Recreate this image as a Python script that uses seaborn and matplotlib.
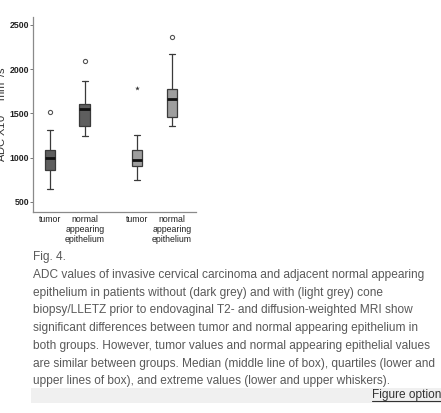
import numpy as np
import seaborn as sns
import matplotlib.pyplot as plt
from matplotlib.lines import Line2D
from matplotlib.patches import Rectangle

sns.set_style("ticks")
plt.rcParams['font.family'] = ['Liberation Sans', 'DejaVu Sans']

# Box summaries (ADC x10^-6 mm2/s)
labels = ["tumor", "normal\nappearing\nepithelium", "tumor", "normal\nappearing\nepithelium"]
positions = [1, 2, 3.5, 4.5]
whislo = [650, 1248, 752, 1353]
q1 = [861, 1361, 910, 1459]
med = [1000, 1549, 978, 1665]
q3 = [1083, 1602, 1083, 1775]
whishi = [1316, 1868, 1260, 2169]
outlier = [1515, 2098, 1786, 2368]
outlier_kind = ["o", "o", "*", "o"]
box_colors = ["#5e5e5e", "#5e5e5e", "#9e9e9e", "#9e9e9e"]
yticks = [500, 1000, 1500, 2000, 2500]

caption = [
    "ADC values of invasive cervical carcinoma and adjacent normal appearing",
    "epithelium in patients without (dark grey) and with (light grey) cone",
    "biopsy/LLETZ prior to endovaginal T2- and diffusion-weighted MRI show",
    "significant differences between tumor and normal appearing epithelium in",
    "both groups. However, tumor values and normal appearing epithelial values",
    "are similar between groups. Median (middle line of box), quartiles (lower and",
    "upper lines of box), and extreme values (lower and upper whiskers).",
]

W, H = 441, 413
fig = plt.figure(figsize=(W / 100, H / 100), dpi=100)
ax = fig.add_axes([33 / W, 1 - 212 / H, (196 - 33) / W, (212 - 17) / H])

stats = []
for i in range(len(positions)):
    stats.append(dict(whislo=whislo[i], q1=q1[i], med=med[i], q3=q3[i],
                      whishi=whishi[i], fliers=[]))

bp = ax.bxp(stats, positions=positions, widths=0.31, patch_artist=True,
            showfliers=False,
            boxprops=dict(edgecolor="#3a3a3a", linewidth=0.9),
            whiskerprops=dict(color="#3a3a3a", linewidth=0.9),
            capprops=dict(color="#3a3a3a", linewidth=0.9),
            medianprops=dict(color="#111111", linewidth=2.0),
            capwidths=0.16)
for patch, c in zip(bp["boxes"], box_colors):
    patch.set_facecolor(c)

# outliers
for p, v, m in zip(positions, outlier, outlier_kind):
    if m == "o":
        sns.scatterplot(x=[p], y=[v], ax=ax, marker="o", s=9,
                        facecolor="white", edgecolor="#555555", linewidth=0.8)
    else:
        sns.scatterplot(x=[p], y=[v], ax=ax, marker="*", s=12,
                        color="#333333", linewidth=0)

ax.set_xlim(0.514, 5.19)
ax.set_ylim(387, 2590)
ax.set_yticks(yticks)
ax.set_yticklabels([str(t) for t in yticks], fontsize=6.3, color="#222222",
                   fontweight="bold")
ax.set_xticks(positions)
ax.set_xticklabels(labels, fontsize=6.3, color="#222222", linespacing=1.1)
ax.tick_params(axis="x", length=0, pad=2.5)
ax.tick_params(axis="y", length=2, width=0.7, color="#777777", pad=0.8)
for s in ["left", "bottom"]:
    ax.spines[s].set_color("#8a8a8a")
    ax.spines[s].set_linewidth(0.9)
sns.despine(ax=ax)
ax.set_ylabel("ADC X10$^{-6}$ mm$^{2}$/s", fontsize=8, color="#333333")
ax.yaxis.set_label_coords(-0.145, 0.5)

# caption
cap_size = 8.55
fig.text(33 / W, 1 - 257 / H, "Fig. 4.", fontsize=cap_size, color="#595959",
         va="center", ha="left")
for i, line in enumerate(caption):
    fig.text(33 / W, 1 - (275 + 17.7 * i) / H, line, fontsize=cap_size,
             color="#595959", va="center", ha="left")

fig.patches.append(Rectangle((31 / W, 1 - 403 / H), (W - 31) / W, 15 / H,
                             transform=fig.transFigure, facecolor="#f0f0f0",
                             edgecolor="none", zorder=0))
fig.text(372 / W, 1 - 395 / H, "Figure options", fontsize=cap_size, color="#333333",
         va="center", ha="left")
fig.lines.append(Line2D([372 / W, 1.0], [1 - 401 / H, 1 - 401 / H],
                        transform=fig.transFigure, color="#333333", linewidth=0.8))

fig.savefig("out.png", dpi=100)
